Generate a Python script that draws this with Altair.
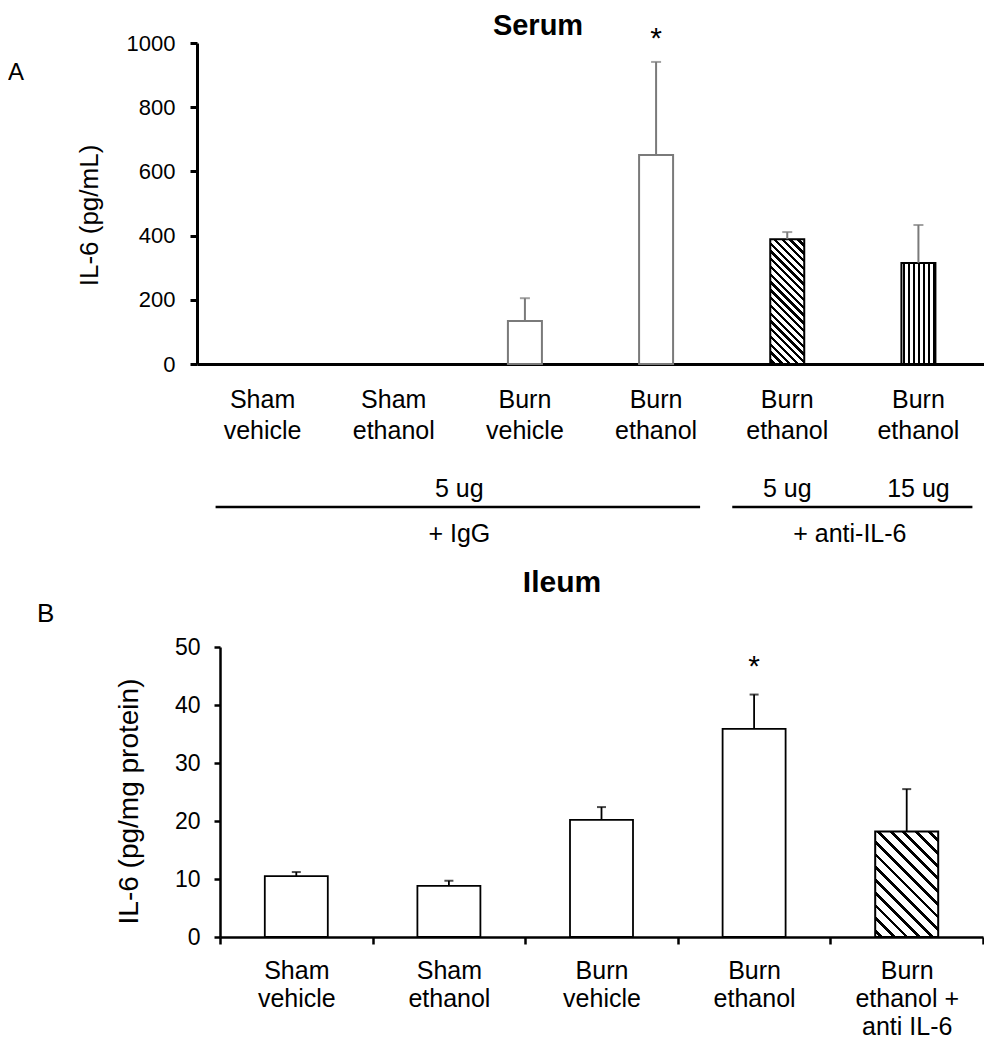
import math
import altair as alt
import pandas as pd

FONT = "Liberation Sans, Arial, Helvetica, sans-serif"

# ---------------- data: panel A (serum) ----------------
serum_groups = ["Sham vehicle", "Sham ethanol", "Burn vehicle", "Burn ethanol",
                "Burn ethanol 5 ug anti-IL-6", "Burn ethanol 15 ug anti-IL-6"]
serum_mean = [0, 0, 134, 651, 389, 315]
serum_sem = [0, 0, 71, 290, 22, 118]
serum_style = ["open", "open", "open", "open", "diag", "vert"]
serum_star = ["", "", "", "*", "", ""]
serum_yticks = [0, 200, 400, 600, 800, 1000]

# ---------------- data: panel B (ileum) ----------------
ileum_groups = ["Sham\nvehicle", "Sham\nethanol", "Burn\nvehicle", "Burn\nethanol",
                "Burn\nethanol +\nanti IL-6"]
ileum_mean = [10.5, 8.8, 20.2, 35.9, 18.2]
ileum_sem = [0.7, 0.9, 2.2, 5.9, 7.3]
ileum_style = ["open", "open", "open", "open", "diag"]
ileum_star = ["", "", "", "*", ""]
ileum_yticks = [0, 10, 20, 30, 40, 50]

# ---------------- layout ----------------
A_W, A_H, A_MAX = 787, 321, 1000
B_W, B_H, B_MAX = 786, 290, 50
B_SHIFT = 23
A_BAR, B_BAR = 34, 63
A_STEP = A_W / len(serum_groups)


def stripes(span, period, line):
    stops = [alt.GradientStop(offset=0, color="white")]
    start = period * 0.35
    while start < span:
        a = start / span
        b = min((start + line) / span, 1.0)
        stops += [alt.GradientStop(offset=a, color="white"),
                  alt.GradientStop(offset=a, color="black"),
                  alt.GradientStop(offset=b, color="black"),
                  alt.GradientStop(offset=b, color="white")]
        start += period
    stops.append(alt.GradientStop(offset=1, color="white"))
    return stops


def diag_fill(w, h, period, line):
    lam = (w + h) / (w * w + h * h)
    return alt.LinearGradient(gradient="linear", x1=0, y1=1, x2=lam * w, y2=1 - lam * h,
                              stops=stripes((w + h) / math.sqrt(2), period, line))


def vert_fill(w, period, line):
    return alt.LinearGradient(gradient="linear", x1=0, y1=0, x2=1, y2=0,
                              stops=stripes(w, period, line))


# ---------------- panel A ----------------
dfa = pd.DataFrame({"cat": serum_groups, "mean": serum_mean,
                    "top": [m + s for m, s in zip(serum_mean, serum_sem)],
                    "style": serum_style, "star": serum_star})


def xa(field="cat"):
    return alt.X(f"{field}:N", sort=serum_groups,
                 scale=alt.Scale(domain=serum_groups, paddingInner=0, paddingOuter=0),
                 axis=alt.Axis(title=None, ticks=False, domainWidth=3, domainColor="black",
                               labelExpr="slice(split(datum.label, ' '), 0, 2)",
                               labelAngle=0, labelFontSize=25, labelColor="black",
                               labelPadding=43, labelBaseline="alphabetic",
                               labelLineHeight=31, labelOverlap=False, grid=False))


def ya(field):
    return alt.Y(f"{field}:Q", scale=alt.Scale(domain=[0, A_MAX], nice=False),
                 axis=alt.Axis(title="IL-6 (pg/mL)", values=serum_yticks, format="d",
                               grid=False, domainWidth=3, domainColor="black", tickWidth=3,
                               tickSize=7, tickColor="black", labelFontSize=22,
                               labelPadding=15, labelColor="black", titleFontSize=26,
                               titleFontWeight="normal", titleColor="black", titleAngle=270,
                               titleX=-100, titleY=172, titleBaseline="alphabetic",
                               titleAlign="center"))


baseA = alt.Chart(dfa)
diag_a_h = serum_mean[4] / A_MAX * A_H
a_open = baseA.transform_filter("datum.style == 'open' && datum.mean > 0").mark_bar(
    width=A_BAR, fill="white", stroke="#7a7a7a", strokeWidth=2).encode(x=xa(), y=ya("mean"))
a_diag = baseA.transform_filter("datum.style == 'diag'").mark_bar(
    width=A_BAR, fill=diag_fill(A_BAR, diag_a_h, 5.5, 2.3), stroke="black",
    strokeWidth=2).encode(x=xa(), y=ya("mean"))
a_vert = baseA.transform_filter("datum.style == 'vert'").mark_bar(
    width=A_BAR, fill=vert_fill(A_BAR, 5, 2.2), stroke="black",
    strokeWidth=2).encode(x=xa(), y=ya("mean"))
a_err = baseA.transform_filter("datum.mean > 0").mark_rule(
    color="#7a7a7a", strokeWidth=2).encode(x=xa(), y=ya("mean"), y2="top:Q")
a_cap = baseA.transform_filter("datum.mean > 0").mark_tick(
    color="#7a7a7a", thickness=2, size=10).encode(x=xa(), y=ya("top"))
a_star = baseA.transform_filter("datum.star != ''").mark_text(
    fontSize=30, baseline="alphabetic", dy=-14, color="black").encode(
    x=xa(), y=ya("top"), text="star:N")

ann_a1 = pd.DataFrame({"cat": [serum_groups[1]], "t": ["5 ug"]})
ann_a2 = pd.DataFrame({"cat": [serum_groups[1]], "t": ["+ IgG"]})
ann_a3 = pd.DataFrame({"cat": [serum_groups[4], serum_groups[5]], "t": ["5 ug", "15 ug"]})
ann_a4 = pd.DataFrame({"cat": [serum_groups[4]], "t": ["+ anti-IL-6"]})
txt_kw = dict(fontSize=25, baseline="alphabetic", align="center", color="black")
a_t1 = alt.Chart(ann_a1).mark_text(dx=A_STEP / 2, **txt_kw).encode(
    x=xa(), y=alt.value(454), text="t:N")
a_t2 = alt.Chart(ann_a2).mark_text(dx=A_STEP / 2, **txt_kw).encode(
    x=xa(), y=alt.value(499), text="t:N")
a_t3 = alt.Chart(ann_a3).mark_text(**txt_kw).encode(
    x=xa(), y=alt.value(454), text="t:N")
a_t4 = alt.Chart(ann_a4).mark_text(dx=A_STEP / 2 - 3, **txt_kw).encode(
    x=xa(), y=alt.value(499), text="t:N")

grp1 = pd.DataFrame({"cat": [serum_groups[0]], "end": [serum_groups[3]]})
grp2 = pd.DataFrame({"cat": [serum_groups[4]], "end": [serum_groups[5]]})
a_l1 = alt.Chart(grp1).mark_rule(color="black", strokeWidth=2.5, xOffset=-47,
                                 x2Offset=44).encode(x=xa(), x2="end:N", y=alt.value(464))
a_l2 = alt.Chart(grp2).mark_rule(color="black", strokeWidth=2.5, xOffset=-55,
                                 x2Offset=54).encode(x=xa(), x2="end:N", y=alt.value(464))

a_title = alt.Chart(pd.DataFrame({"t": ["Serum"]})).mark_text(
    fontSize=29, fontWeight="bold", align="center", baseline="alphabetic",
    color="black").encode(x=alt.value(341), y=alt.value(-8), text="t:N")
a_letter = alt.Chart(pd.DataFrame({"t": ["A"]})).mark_text(
    fontSize=24, align="left", baseline="alphabetic", color="black").encode(
    x=alt.value(-189), y=alt.value(37), text="t:N")

top = alt.layer(a_open, a_diag, a_vert, a_err, a_cap, a_star, a_t1, a_t2, a_t3, a_t4,
                a_l1, a_l2, a_title, a_letter).properties(width=A_W, height=A_H)

# ---------------- panel B ----------------
dfb = pd.DataFrame({"cat": ileum_groups, "mean": ileum_mean,
                    "top": [m + s for m, s in zip(ileum_mean, ileum_sem)],
                    "style": ileum_style, "star": ileum_star})


def xb():
    return alt.X("cat:N", sort=ileum_groups,
                 scale=alt.Scale(domain=ileum_groups, range=[B_SHIFT, B_W],
                                 paddingInner=0, paddingOuter=0),
                 axis=alt.Axis(title=None, ticks=True, tickBand="extent", tickSize=7,
                               tickWidth=2.5, tickColor="black", domainWidth=2.5,
                               domainColor="black",
                               labelExpr="split(datum.label, '\\n')",
                               labelAngle=0, labelFontSize=25, labelColor="black",
                               labelPadding=34, labelBaseline="alphabetic",
                               labelLineHeight=28, labelOverlap=False, grid=False))


def yb(field):
    return alt.Y(f"{field}:Q", scale=alt.Scale(domain=[0, B_MAX], nice=False),
                 axis=alt.Axis(title="IL-6 (pg/mg protein)", values=ileum_yticks, grid=False,
                               offset=-B_SHIFT, domainWidth=2.5, domainColor="black",
                               tickWidth=2.5, tickSize=6, tickColor="black",
                               labelFontSize=23, labelPadding=14, labelColor="black",
                               titleFontSize=28, titleFontWeight="normal", titleColor="black",
                               titleAngle=270, titleX=-83, titleY=154,
                               titleBaseline="alphabetic", titleAlign="center"))


baseB = alt.Chart(dfb)
diag_b_h = ileum_mean[4] / B_MAX * B_H
b_open = baseB.transform_filter("datum.style == 'open'").mark_bar(
    width=B_BAR, fill="white", stroke="black", strokeWidth=1.8).encode(x=xb(), y=yb("mean"))
b_diag = baseB.transform_filter("datum.style == 'diag'").mark_bar(
    width=B_BAR, fill=diag_fill(B_BAR, diag_b_h, 9, 2.7), stroke="black",
    strokeWidth=2).encode(x=xb(), y=yb("mean"))
b_err = baseB.mark_rule(color="black", strokeWidth=1.8).encode(
    x=xb(), y=yb("mean"), y2="top:Q")
b_cap = baseB.mark_tick(color="black", thickness=2, size=9).encode(x=xb(), y=yb("top"))
b_star = baseB.transform_filter("datum.star != ''").mark_text(
    fontSize=30, baseline="alphabetic", dy=-19, color="black").encode(
    x=xb(), y=yb("top"), text="star:N")
b_title = alt.Chart(pd.DataFrame({"t": ["Ileum"]})).mark_text(
    fontSize=30, fontWeight="bold", align="center", baseline="alphabetic",
    color="black").encode(x=alt.value(365), y=alt.value(-55), text="t:N")
b_letter = alt.Chart(pd.DataFrame({"t": ["B"]})).mark_text(
    fontSize=26, align="left", baseline="alphabetic", color="black").encode(
    x=alt.value(-160), y=alt.value(-25), text="t:N")

bottom = alt.layer(b_open, b_diag, b_err, b_cap, b_star, b_title, b_letter).properties(
    width=B_W, height=B_H)

chart = alt.vconcat(top, bottom, spacing=283, bounds="flush").properties(
    autosize=alt.AutoSizeParams(type="none"),
    padding={"left": 189, "top": 35, "right": 787, "bottom": 995},
).configure(font=FONT).configure_view(stroke=None)

chart.save("out.html", embed_options={"renderer": "svg", "actions": False})
